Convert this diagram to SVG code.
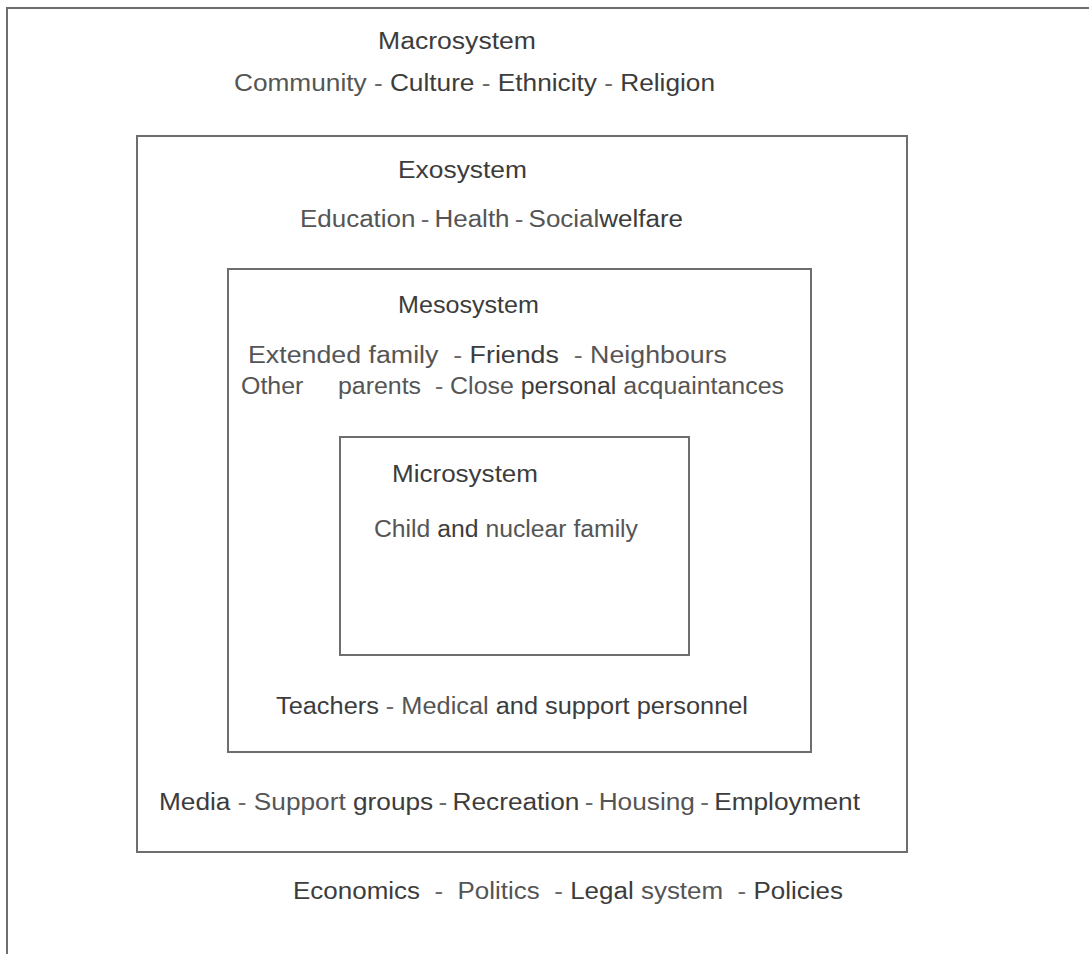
<svg xmlns="http://www.w3.org/2000/svg" width="1089" height="954" viewBox="0 0 1089 954">
  <style>
    .frame { fill: none; stroke: #6e6e6e; stroke-width: 2; }
    .t { font-family: "Liberation Sans", Arial, sans-serif; font-size: 23px; fill: #3c3c3c; white-space: pre; }
    .d { fill: #6a6a6a; }
    .l { fill: #555555; }
  </style>
  <rect width="1089" height="954" fill="#ffffff"/>

  <!-- Macrosystem: open frame (top and left edges only) -->
  <g id="macrosystem">
    <path class="frame" d="M7,954 V8 H1089" stroke-width="2.5"/>
    <text class="t" x="378" y="49" textLength="158" lengthAdjust="spacingAndGlyphs">Macrosystem</text>
    <text class="t" x="234" y="91" textLength="481" lengthAdjust="spacingAndGlyphs"><tspan class="l">Community</tspan><tspan class="d"> - </tspan>Culture<tspan class="d"> - </tspan>Ethnicity<tspan class="d"> - </tspan>Religion</text>
    <text class="t" x="293" y="899" textLength="550" lengthAdjust="spacingAndGlyphs">Economics  <tspan class="d">-</tspan>  <tspan class="l">Politics</tspan>  <tspan class="d">-</tspan> Legal <tspan class="l">system</tspan>  <tspan class="d">-</tspan> Policies</text>
  </g>

  <!-- Exosystem -->
  <g id="exosystem">
    <rect class="frame" x="137" y="136" width="770" height="716"/>
    <text class="t" x="398" y="178" textLength="129" lengthAdjust="spacingAndGlyphs">Exosystem</text>
    <text class="t" x="300" y="227" textLength="383" lengthAdjust="spacingAndGlyphs"><tspan class="l">Education</tspan><tspan class="d">&#x2009;-&#x2009;</tspan><tspan class="l">Health</tspan><tspan class="d">&#x2009;-&#x2009;</tspan><tspan class="l">Social</tspan>welfare</text>
    <text class="t" x="159" y="810" textLength="701" lengthAdjust="spacingAndGlyphs">Media <tspan class="d">-</tspan> <tspan class="l">Support</tspan> groups<tspan class="d">&#x2009;-&#x2009;</tspan>Recreation<tspan class="d">&#x2009;-&#x2009;</tspan><tspan class="l">Housing</tspan><tspan class="d">&#x2009;-&#x2009;</tspan>Employment</text>
  </g>

  <!-- Mesosystem -->
  <g id="mesosystem">
    <rect class="frame" x="228" y="269" width="583" height="483"/>
    <text class="t" x="398" y="313" textLength="141" lengthAdjust="spacingAndGlyphs">Mesosystem</text>
    <text class="t" x="248" y="363" textLength="479" lengthAdjust="spacingAndGlyphs"><tspan class="l">Extended family</tspan>  <tspan class="d">-</tspan> Friends  <tspan class="d">-</tspan> <tspan class="l">Neighbours</tspan></text>
    <text class="t" x="241" y="394" textLength="543" lengthAdjust="spacingAndGlyphs"><tspan class="l">Other</tspan>     <tspan class="l">parents</tspan>  <tspan class="d">-</tspan> <tspan class="l">Close</tspan> personal <tspan class="l">acquaintances</tspan></text>
    <text class="t" x="276" y="714" textLength="472" lengthAdjust="spacingAndGlyphs">Teachers <tspan class="d">-</tspan> <tspan class="l">Medical</tspan> and support personnel</text>
  </g>

  <!-- Microsystem -->
  <g id="microsystem">
    <rect class="frame" x="340" y="437" width="349" height="218"/>
    <text class="t" x="392" y="482" textLength="146" lengthAdjust="spacingAndGlyphs">Microsystem</text>
    <text class="t" x="374" y="537" textLength="264" lengthAdjust="spacingAndGlyphs"><tspan class="l">Child</tspan> and <tspan class="l">nuclear family</tspan></text>
  </g>

  <g id="connectors"/>
</svg>
